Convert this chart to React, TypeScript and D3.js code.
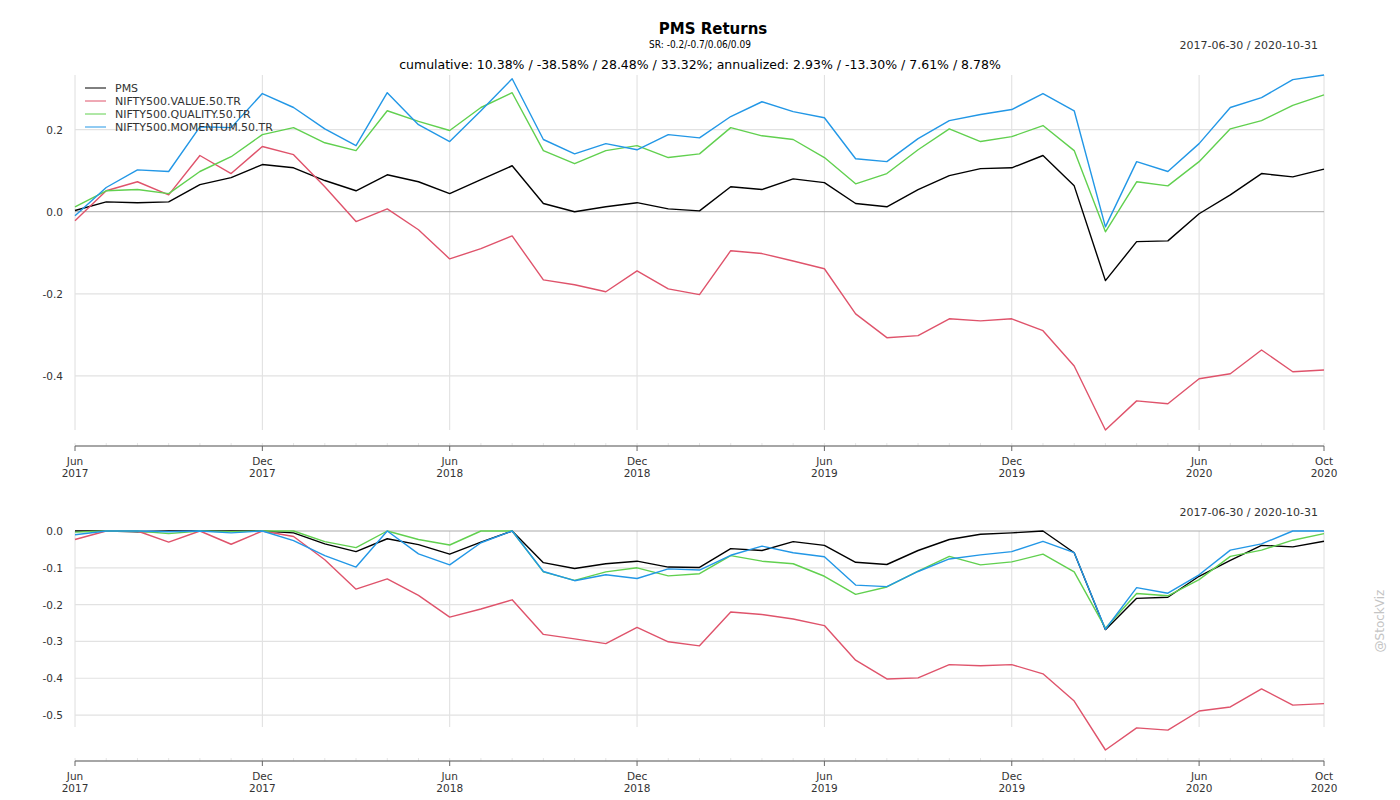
import React from "react";
import * as d3 from "d3";

// month-end index 0 = 2017-06-30 ... 40 = 2020-10-31
const seriesNames = ["PMS", "NIFTY500.VALUE.50.TR", "NIFTY500.QUALITY.50.TR", "NIFTY500.MOMENTUM.50.TR"];
const seriesColors = ["#000000", "#DF536B", "#61D04F", "#2297E6"];

const cumPMS = [0.003, 0.024, 0.022, 0.024, 0.066, 0.083, 0.115, 0.107, 0.076, 0.051, 0.090, 0.073, 0.044, 0.078, 0.112, 0.020, 0.000, 0.012, 0.022, 0.007, 0.002, 0.061, 0.054, 0.080, 0.071, 0.020, 0.012, 0.054, 0.088, 0.105, 0.107, 0.137, 0.063, -0.168, -0.073, -0.071, -0.005, 0.041, 0.093, 0.085, 0.1038];
const cumValue = [-0.022, 0.051, 0.073, 0.041, 0.137, 0.093, 0.159, 0.139, 0.061, -0.024, 0.007, -0.044, -0.115, -0.090, -0.059, -0.166, -0.178, -0.195, -0.144, -0.188, -0.202, -0.095, -0.102, -0.120, -0.139, -0.249, -0.307, -0.302, -0.261, -0.266, -0.261, -0.290, -0.376, -0.532, -0.461, -0.468, -0.407, -0.395, -0.337, -0.390, -0.3858];
const cumQuality = [0.012, 0.051, 0.054, 0.044, 0.098, 0.134, 0.188, 0.205, 0.168, 0.149, 0.246, 0.220, 0.198, 0.254, 0.290, 0.149, 0.117, 0.149, 0.161, 0.132, 0.141, 0.205, 0.185, 0.176, 0.132, 0.068, 0.093, 0.151, 0.202, 0.171, 0.183, 0.210, 0.149, -0.049, 0.073, 0.063, 0.122, 0.202, 0.222, 0.259, 0.2848];
const cumMomentum = [-0.010, 0.059, 0.102, 0.098, 0.207, 0.205, 0.288, 0.254, 0.202, 0.161, 0.290, 0.212, 0.171, 0.246, 0.324, 0.176, 0.141, 0.166, 0.151, 0.188, 0.180, 0.232, 0.268, 0.244, 0.229, 0.129, 0.122, 0.178, 0.222, 0.237, 0.249, 0.288, 0.246, -0.037, 0.122, 0.098, 0.166, 0.254, 0.278, 0.322, 0.3332];

const ddPMS = [0, 0, -0.002, 0, 0, 0, 0, -0.005, -0.035, -0.056, -0.021, -0.037, -0.063, -0.030, 0, -0.086, -0.102, -0.089, -0.082, -0.098, -0.099, -0.048, -0.053, -0.029, -0.039, -0.085, -0.091, -0.053, -0.023, -0.009, -0.005, 0, -0.059, -0.268, -0.183, -0.180, -0.123, -0.080, -0.039, -0.043, -0.028];
const ddValue = [-0.023, 0, 0, -0.030, 0, -0.036, 0, -0.015, -0.078, -0.158, -0.130, -0.175, -0.234, -0.212, -0.187, -0.281, -0.293, -0.306, -0.262, -0.301, -0.312, -0.220, -0.227, -0.239, -0.257, -0.351, -0.402, -0.399, -0.363, -0.366, -0.363, -0.388, -0.462, -0.595, -0.535, -0.541, -0.489, -0.478, -0.429, -0.473, -0.469];
const ddQuality = [-0.003, 0, 0, -0.007, 0, -0.002, 0, 0, -0.029, -0.045, 0, -0.023, -0.038, 0, 0, -0.111, -0.134, -0.111, -0.100, -0.122, -0.116, -0.067, -0.082, -0.089, -0.123, -0.172, -0.152, -0.109, -0.069, -0.092, -0.084, -0.063, -0.111, -0.264, -0.170, -0.176, -0.132, -0.069, -0.052, -0.025, -0.007];
const ddMomentum = [-0.010, 0, 0, -0.002, 0, -0.005, 0, -0.026, -0.067, -0.098, 0, -0.062, -0.092, -0.032, 0, -0.110, -0.135, -0.119, -0.129, -0.103, -0.106, -0.066, -0.041, -0.059, -0.070, -0.147, -0.151, -0.110, -0.076, -0.065, -0.056, -0.028, -0.059, -0.267, -0.154, -0.169, -0.119, -0.052, -0.035, 0, 0];

const cumSeries = [cumPMS, cumValue, cumQuality, cumMomentum];
const ddSeries = [ddPMS, ddValue, ddQuality, ddMomentum];

const majorIdx = [0, 6, 12, 18, 24, 30, 36, 40];
const majorMonth = ["Jun", "Dec", "Jun", "Dec", "Jun", "Dec", "Jun", "Oct"];
const majorYear = ["2017", "2017", "2018", "2018", "2019", "2019", "2020", "2020"];

const topTicks = [0.2, 0.0, -0.2, -0.4];
const bottomTicks = [0.0, -0.1, -0.2, -0.3, -0.4, -0.5];

const titleText = "PMS Returns";
const srText = "SR: -0.2/-0.7/0.06/0.09";
const cumText = "cumulative: 10.38% / -38.58% / 28.48% / 33.32%; annualized: 2.93% / -13.30% / 7.61% / 8.78%";
const rangeText = "2017-06-30 / 2020-10-31";

const FONT = "DejaVu Sans, Verdana, sans-serif";

const x = d3.scaleLinear().domain([0, cumPMS.length - 1]).range([75, 1324]);

const topExtent = d3.extent(cumSeries.flat()) as [number, number];
const yTop = d3.scaleLinear().domain(topExtent).range([430, 75]);
const bottomExtent = d3.extent(ddSeries.flat()) as [number, number];
const yBot = d3.scaleLinear().domain(bottomExtent).range([750, 531]);

const monthIdx = d3.range(cumPMS.length);

function Axis({ y0 }: { y0: number }) {
  return (
    <g>
      {monthIdx.map((i) => (
        <line key={"m" + i} x1={x(i)} x2={x(i)} y1={y0 - 3} y2={y0} stroke="#e4e4e4" strokeWidth={1} />
      ))}
      <line x1={x(0)} x2={x(40)} y1={y0} y2={y0} stroke="#888" strokeWidth={1.5} />
      {majorIdx.map((i, k) => (
        <g key={"t" + i} transform={`translate(${x(i)},${y0})`}>
          <line y1={0} y2={5} stroke="#666" strokeWidth={1} />
          <text y={19} textAnchor="middle" fontSize={10.5} fill="#333" fontFamily={FONT}>{majorMonth[k]}</text>
          <text y={31} textAnchor="middle" fontSize={10.5} fill="#333" fontFamily={FONT}>{majorYear[k]}</text>
        </g>
      ))}
    </g>
  );
}

function Panel({ series, y, ticks, gTop, gBot, zeroDark }: { series: number[][]; y: d3.ScaleLinear<number, number>; ticks: number[]; gTop: number; gBot: number; zeroDark: boolean }) {
  const line = d3.line<number>().x((_, i) => x(i)).y((d) => y(d));
  return (
    <g>
      {majorIdx.map((i) => (
        <line key={"v" + i} x1={x(i)} x2={x(i)} y1={gTop} y2={gBot} stroke="#dedede" strokeWidth={1} />
      ))}
      {ticks.map((t) => (
        <g key={"h" + t}>
          <line x1={x(0)} x2={x(40)} y1={y(t)} y2={y(t)} stroke={t === 0 && zeroDark ? "#aaa" : "#e2e2e2"} strokeWidth={t === 0 ? 1 : 1.2} />
          <text x={63} y={y(t) + 4} textAnchor="end" fontSize={10.5} fill="#333" fontFamily={FONT}>{t.toFixed(1)}</text>
        </g>
      ))}
      {series.map((s, k) => (
        <path key={"s" + k} d={line(s) || ""} fill="none" stroke={seriesColors[k]} strokeWidth={1.4} strokeLinejoin="round" />
      ))}
    </g>
  );
}

export default function App() {
  return (
    <svg width={1400} height={800} style={{ position: "absolute", left: 0, top: 0, background: "#fff" }}>
      <text x={713} y={34} textAnchor="middle" fontSize={15} fontWeight="bold" fontFamily={FONT} fill="#000">{titleText}</text>
      <text x={700} y={48} textAnchor="middle" fontSize={10} fontFamily="DejaVu Sans Condensed, Liberation Sans Narrow, sans-serif" fill="#000">{srText}</text>
      <text x={700} y={69} textAnchor="middle" fontSize={12.5} fontFamily={FONT} fill="#000">{cumText}</text>
      <text x={1318} y={49} textAnchor="end" fontSize={11} fontFamily={FONT} fill="#333">{rangeText}</text>

      <Panel series={cumSeries} y={yTop} ticks={topTicks} gTop={75} gBot={430} zeroDark={true} />
      <Axis y0={446} />

      <text x={1318} y={516} textAnchor="end" fontSize={11} fontFamily={FONT} fill="#333">{rangeText}</text>
      <Panel series={ddSeries} y={yBot} ticks={bottomTicks} gTop={531} gBot={727} zeroDark={true} />
      <Axis y0={761} />

      <g>
        {seriesNames.map((n, k) => (
          <g key={n} transform={`translate(85,${88 + k * 13})`}>
            <line x1={0} x2={21} y1={0} y2={0} stroke={seriesColors[k]} strokeWidth={1} />
            <text x={30} y={4} fontSize={11} fontFamily={FONT} fill="#333">{n}</text>
          </g>
        ))}
      </g>

      <text transform="translate(1384,621) rotate(-90)" textAnchor="middle" fontSize={12} fontFamily={FONT} fill="#c4c4c4">@StockViz</text>
    </svg>
  );
}
